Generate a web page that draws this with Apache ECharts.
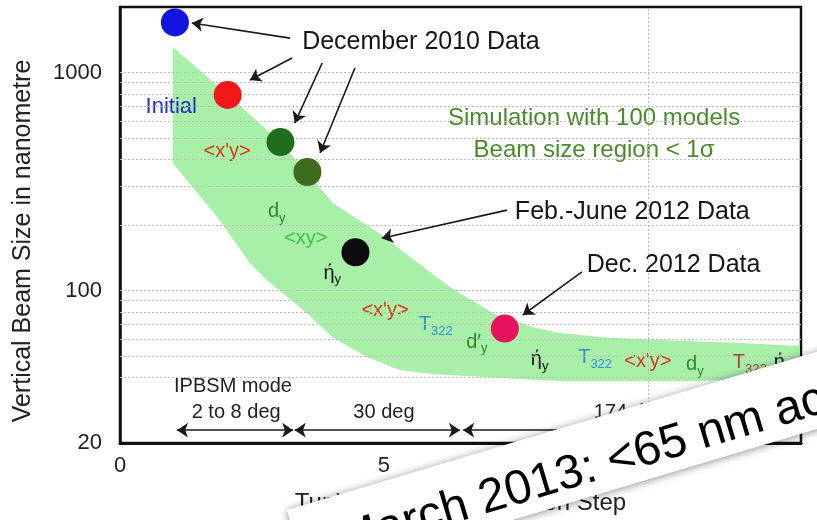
<!DOCTYPE html>
<html>
<head>
<meta charset="utf-8">
<script src="https://cdn.jsdelivr.net/npm/echarts@6/dist/echarts.min.js"></script>
<style>
  html, body { margin: 0; padding: 0; background: #fff; }
  #chart { width: 817px; height: 520px; }
</style>
</head>
<body>
<div id="chart"></div>
<script>
// Measured vertical beam size (nm) at each tuning step
const stepX    = [1.04, 2.04, 3.04, 3.55, 4.46, 7.29];
const beamSize = [1700, 790, 480, 350, 150, 67];

// Simulated beam size region (100 models, < 1 sigma): upper and lower edges
const bandUpperX = [1.0, 2.05, 3.05, 3.54, 4.03, 4.87, 5.49, 6.25, 7.06, 7.82, 8.33, 9.22, 10.47, 11.74, 12.88];
const bandUpperY = [1312, 790, 475, 350, 252, 186, 143, 104, 79, 68, 64, 61, 59, 57.5, 55.7];
const bandLowerX = [1.0, 1.84, 2.46, 2.78, 3.54, 4.03, 4.68, 5.30, 5.93, 7.20, 8.33, 10.98, 12.88];
const bandLowerY = [385, 218, 134, 112, 79, 61, 49.6, 43.2, 41.5, 39.7, 38.5, 38.5, 39.7];

// Axis ticks and grid lines
const yTickLabels = [20, 100, 1000];
const yGridValues = [40, 50, 60, 70, 80, 90, 100, 200, 300, 400, 500, 600, 700, 800, 900, 1000];
const xGridValues = [10];

const FONT = '"Liberation Sans", Arial, sans-serif';
const pointColors = ['#1414e0', '#f01818', '#1e6e1e', '#3e6b1c', '#0a0a0a', '#e8135e'];

// Knob names along the tuning path
const knobNotes = [
  { t: 'Initial',      x: 0.97,  y: 695,  c: '#1c2fc8', s: 22 },
  { t: "<x'y>",        x: 2.03,  y: 437,  c: '#d8391c' },
  { t: 'd{s|y}',       x: 2.97,  y: 230,  c: '#2b8a2b' },
  { t: '<xy>',         x: 3.52,  y: 174,  c: '#46c046' },
  { t: 'ή{s|y}',       x: 4.02,  y: 120,  c: '#111111' },
  { t: "<x'y>",        x: 5.02,  y: 81.5, c: '#d8391c' },
  { t: 'T{s|322}',     x: 5.98,  y: 69.6, c: '#2f8fd8' },
  { t: 'd′{s|y}',      x: 6.76,  y: 58.1, c: '#2b8a2b' },
  { t: 'ή{s|y}',       x: 7.95,  y: 48.1, c: '#111111' },
  { t: 'T{s|322}',     x: 9.0,   y: 49.1, c: '#2f8fd8' },
  { t: "<x'y>",        x: 10.0,  y: 47.1, c: '#d8391c' },
  { t: 'd{s|y}',       x: 10.89, y: 45.6, c: '#2b8a2b' },
  { t: 'T{s|322}',     x: 11.93, y: 46.6, c: '#a8483a' },
  { t: 'ή{s|y}',       x: 12.55, y: 46.6, c: '#111111' }
];

// Callout texts (left aligned) and centred captions
const callouts = [
  { t: 'December 2010 Data',  x: 3.45, y: 1381 },
  { t: 'Feb.-June 2012 Data', x: 7.48, y: 230 },
  { t: 'Dec. 2012 Data',      x: 8.84, y: 131 }
];
const captions = [
  { t: 'Simulation with 100 models\nBeam size region < 1σ', x: 8.98, y: 523, c: '#4a8a2a', s: 24, lh: 32 },
  { t: 'IPBSM mode', x: 2.14, y: 36.5, c: '#222', s: 20 },
  { t: '2 to 8 deg', x: 2.20, y: 27.7, c: '#222', s: 20 },
  { t: '30 deg',     x: 5.0,  y: 27.7, c: '#222', s: 20 },
  { t: '174 deg',    x: 9.66, y: 27.7, c: '#222', s: 20 }
];

// Arrows: [fromX, fromY, toX, toY]
const calloutArrows = [
  [3.22, 1440, 1.36, 1690],
  [3.26, 1167, 2.46, 925],
  [3.83, 1107, 3.31, 587],
  [4.45, 1050, 3.79, 428],
  [7.33, 234, 4.96, 174],
  [8.75, 122, 7.63, 77.3]
];
// Double arrows for the IPBSM laser crossing-angle modes
const modeArrows = [
  [1.08, 22.9, 3.28, 22.9],
  [3.31, 22.9, 6.44, 22.9],
  [6.50, 22.9, 12.8, 22.9]
];

const chart = echarts.init(document.getElementById('chart'));

const textSeriesBase = {
  type: 'scatter',
  z: 4,
  silent: true,
  symbolSize: 0,
  itemStyle: { color: 'transparent', opacity: 1 }
};

const option = {
  animation: false,
  backgroundColor: '#fff',
  textStyle: { fontFamily: FONT },
  grid: {
    left: 120, right: 16, top: 7, bottom: 77,
    show: true, borderColor: '#111', borderWidth: 2.5, backgroundColor: 'transparent'
  },
  xAxis: {
    type: 'value', min: 0, max: 12.9, interval: 5,
    axisLine: { show: true, onZero: false, lineStyle: { color: '#111', width: 3 } },
    axisTick: { show: false },
    splitLine: { show: false },
    axisLabel: { fontSize: 22, color: '#222', margin: 12, showMaxLabel: false, fontFamily: FONT },
    name: 'Tuning Knob Optimization Step',
    nameLocation: 'middle', nameGap: 48,
    nameTextStyle: { fontSize: 24, color: '#222', fontFamily: FONT }
  },
  yAxis: {
    type: 'log', logBase: 10, min: 20, max: 2000,
    axisLine: { show: true, lineStyle: { color: '#111', width: 2.5 } },
    axisTick: { show: false },
    splitLine: { show: false },
    minorSplitLine: { show: false },
    axisLabel: {
      customValues: yTickLabels,
      fontSize: 22, color: '#222', margin: 18, fontFamily: FONT,
      formatter: v => {
        const r = Math.round(v);
        return yTickLabels.indexOf(r) >= 0 ? String(r) : '';
      }
    },
    name: 'Vertical Beam Size in nanometre',
    nameLocation: 'middle', nameGap: 84,
    nameTextStyle: { fontSize: 25, color: '#222', fontFamily: FONT, padding: [0, 32, 0, 0] }
  },
  series: [
    {
      // simulated beam size band
      type: 'custom',
      z: 1,
      silent: true,
      data: [0],
      renderItem: (params, api) => {
        const pts = [];
        bandUpperX.forEach((x, i) => pts.push(api.coord([x, bandUpperY[i]])));
        for (let i = bandLowerX.length - 1; i >= 0; i--) {
          pts.push(api.coord([bandLowerX[i], bandLowerY[i]]));
        }
        return {
          type: 'polygon',
          shape: { points: pts },
          style: { fill: '#a8efa8', stroke: 'none' }
        };
      }
    },
    {
      // dotted grid lines
      type: 'scatter',
      z: 2,
      silent: true,
      data: [],
      markLine: {
        silent: true,
        symbol: 'none',
        label: { show: false },
        lineStyle: { type: [2, 2], color: '#bdbdbd', width: 1 },
        data: yGridValues.map(v => ({ yAxis: v })).concat(xGridValues.map(v => ({ xAxis: v })))
      }
    },
    {
      // arrows
      type: 'scatter',
      z: 3,
      silent: true,
      data: [],
      markLine: {
        silent: true,
        animation: false,
        label: { show: false },
        symbolSize: 11,
        lineStyle: { type: 'solid', color: '#1a1a1a', width: 1.6 },
        data: calloutArrows.map(a => [
          { coord: [a[0], a[1]], symbol: 'none' },
          { coord: [a[2], a[3]], symbol: 'arrow' }
        ]).concat(modeArrows.map(a => [
          { coord: [a[0], a[1]], symbol: 'arrow' },
          { coord: [a[2], a[3]], symbol: 'arrow' }
        ]))
      }
    },
    {
      // measured beam sizes
      type: 'scatter',
      z: 5,
      symbolSize: 28,
      data: stepX.map((x, i) => ({ value: [x, beamSize[i]], itemStyle: { color: pointColors[i], opacity: 1 } }))
    },
    Object.assign({}, textSeriesBase, {
      // knob names
      label: {
        show: true, position: 'inside', fontFamily: FONT,
        rich: { s: { fontSize: 13, verticalAlign: 'bottom', fontFamily: FONT, padding: [0, 0, -3, 0] } }
      },
      data: knobNotes.map(n => ({
        value: [n.x, n.y],
        label: { formatter: n.t, color: n.c, fontSize: n.s || 20 }
      }))
    }),
    Object.assign({}, textSeriesBase, {
      // callout texts
      label: { show: true, position: 'right', distance: 0, fontSize: 25, color: '#161616', fontFamily: FONT },
      data: callouts.map(n => ({ value: [n.x, n.y], label: { formatter: n.t } }))
    }),
    Object.assign({}, textSeriesBase, {
      // captions
      label: { show: true, position: 'inside', align: 'center', fontFamily: FONT },
      data: captions.map(n => ({
        value: [n.x, n.y],
        label: { formatter: n.t, color: n.c, fontSize: n.s, lineHeight: n.lh || n.s + 4 }
      }))
    })
  ],
  graphic: [
    {
      type: 'group',
      x: 287, y: 510,
      rotation: 0.29,
      z: 100,
      zlevel: 1,
      children: [
        {
          type: 'rect',
          z: 100, zlevel: 1,
          shape: { x: 0, y: 0, width: 720, height: 74 },
          style: { fill: '#ffffff', shadowBlur: 8, shadowColor: 'rgba(0,0,0,0.45)', shadowOffsetX: 0, shadowOffsetY: 1 }
        },
        {
          type: 'text',
          z: 101, zlevel: 1,
          x: 41, y: 47,
          style: {
            text: 'March 2013: <65 nm achieved',
            fontSize: 48, fontFamily: FONT, fill: '#000',
            verticalAlign: 'middle', align: 'left'
          }
        }
      ]
    }
  ]
};

chart.setOption(option);
</script>
</body>
</html>
